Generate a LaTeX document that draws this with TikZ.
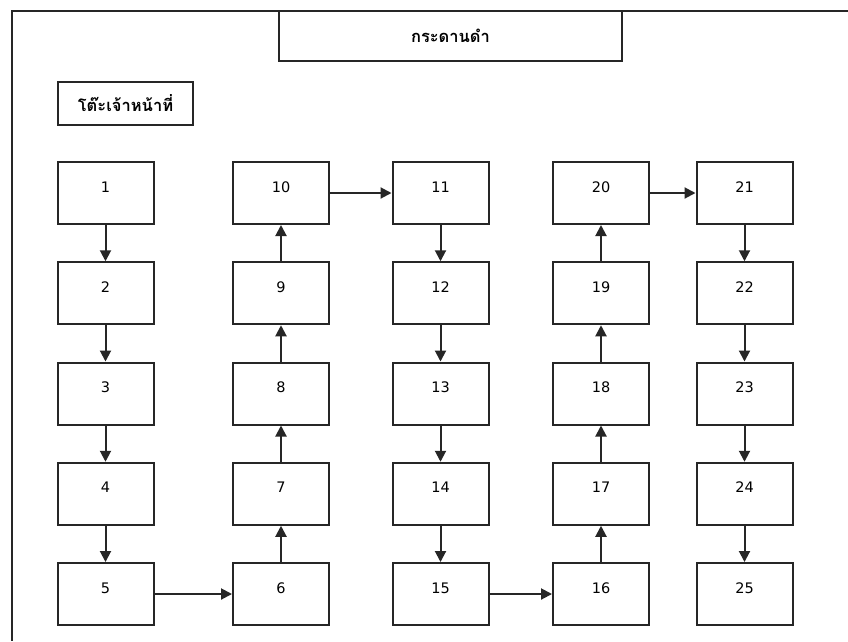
\documentclass[tikz,border=0pt]{standalone}
\usepackage{fontspec}
\setmainfont{DejaVu Sans}
\newfontfamily\thaifont[Script=Thai]{Loma}
\usetikzlibrary{arrows.meta}
\begin{document}
\begin{tikzpicture}[x=1pt,y=-1pt,
  seat/.style={draw=black!85, line width=2pt, minimum width=96pt, minimum height=62pt,
    inner sep=0pt, text height=10pt, text depth=12pt, font=\fontsize{14.5}{16}\selectfont},
  flow/.style={draw=black!85, line width=2pt, -{Triangle[length=11pt,width=11pt]}},
  frame/.style={draw=black!85, line width=2pt}]
\useasboundingbox (0,0) rectangle (848,641);
\fill[white] (0,0) rectangle (848,641);
% outer frame lines
\coordinate (tl) at (12,11);
\coordinate (tr) at (848,11);
\coordinate (bl) at (12,641);
\draw[frame] (tr) -- (tl) -- (bl);
% title board
\node[frame, minimum width=343pt, minimum height=50pt, inner sep=0pt,
  font=\thaifont\bfseries\fontsize{16.5}{18}\selectfont] (board) at (450.5,36) {กระดานดำ};
% officer desk
\node[frame, minimum width=135pt, minimum height=43pt, inner sep=0pt,
  font=\thaifont\bfseries\fontsize{16.5}{18}\selectfont] (desk) at (125.5,103.5) {โต๊ะเจ้าหน้าที่};
% seats
\foreach \n/\x/\y in {1/105.5/193, 2/105.5/293.25, 3/105.5/393.5, 4/105.5/493.75, 5/105.5/594,
  10/281/193, 9/281/293.25, 8/281/393.5, 7/281/493.75, 6/281/594,
  11/440.5/193, 12/440.5/293.25, 13/440.5/393.5, 14/440.5/493.75, 15/440.5/594,
  20/601/193, 19/601/293.25, 18/601/393.5, 17/601/493.75, 16/601/594,
  21/744.5/193, 22/744.5/293.25, 23/744.5/393.5, 24/744.5/493.75, 25/744.5/594}
  \node[seat] (b\n) at (\x,\y) {\n};
% connectors
\foreach \a/\b in {1/2,2/3,3/4,4/5,11/12,12/13,13/14,14/15,21/22,22/23,23/24,24/25}
  \draw[flow] (b\a.south) -- (b\b.north);
\foreach \a/\b in {6/7,7/8,8/9,9/10,16/17,17/18,18/19,19/20}
  \draw[flow] (b\a.north) -- (b\b.south);
\foreach \a/\b in {5/6,10/11,15/16,20/21}
  \draw[flow] (b\a.east) -- (b\b.west);
\end{tikzpicture}
\end{document}
